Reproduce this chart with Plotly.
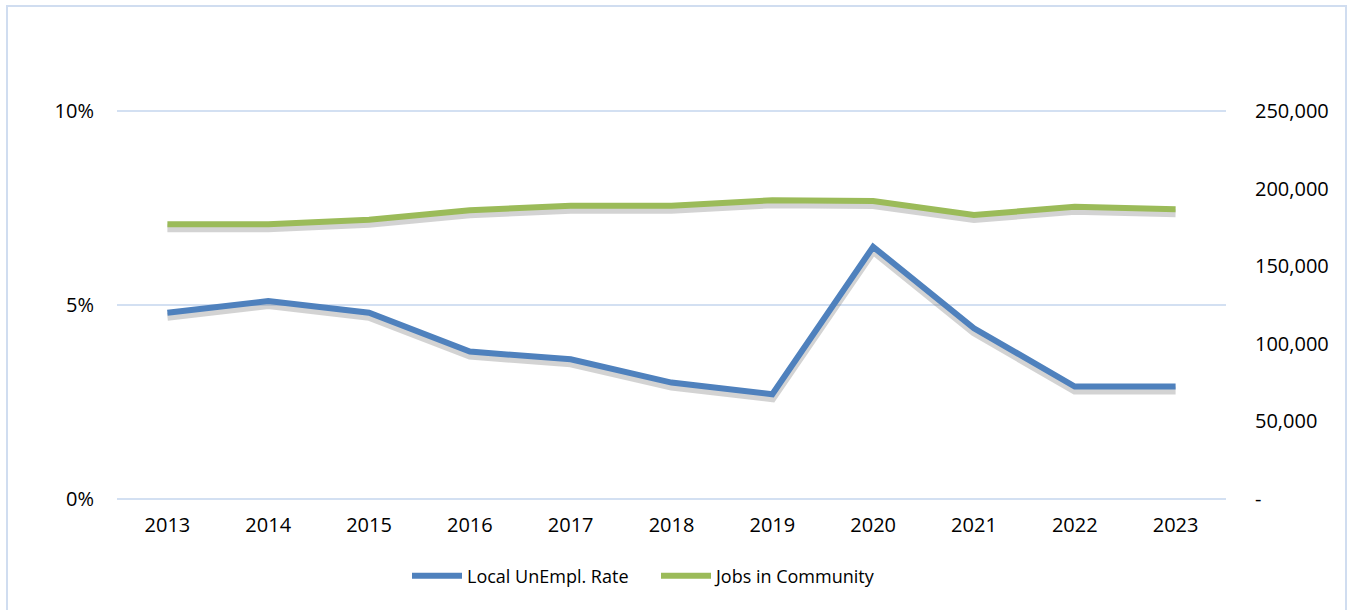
import plotly.graph_objects as go

# ---- data ----
years = ["2013", "2014", "2015", "2016", "2017", "2018", "2019", "2020", "2021", "2022", "2023"]
unemp_rate = [4.8, 5.1, 4.8, 3.8, 3.6, 3.0, 2.7, 6.5, 4.4, 2.9, 2.9]          # percent
jobs = [177000, 177000, 180000, 186000, 189000, 189000, 192500, 192000, 183000, 188300, 186700]
left_ticks = [0, 5, 10]
left_ticktext = ["0%", "5%", "10%"]
right_ticks = [0, 50000, 100000, 150000, 200000, 250000]
right_ticktext = ["-", "50,000", "100,000", "150,000", "200,000", "250,000"]

# ---- layout geometry ----
W, H = 1351, 610
EDGE = 2                      # px of padding so end gridlines are drawn
ML, MR = 117, 125
MT, MB = 111 - EDGE, 111 - EDGE
PW, PH = W - ML - MR, H - MT - MB
CORE = PH - 2 * EDGE          # px between 0% and 10%

def padded(lo, hi):
    d = EDGE / CORE * (hi - lo)
    return [lo - d, hi + d]

LEFT_RANGE = padded(0, 10)
RIGHT_RANGE = padded(0, 250000)
SHADOW_PX = 4

blue = "#4F81BD"
green = "#9BBB59"
grid = "#D3E0F2"
shadow = "rgba(120,120,120,0.33)"
font = "Open Sans"

def shifted(r, px):
    d = px / PH * (r[1] - r[0])
    return [r[0] + d, r[1] + d]

fig = go.Figure()
# keep base subplot present
fig.add_trace(go.Scatter(x=[], y=[], xaxis="x", yaxis="y", showlegend=False, hoverinfo="skip"))
# shadows
fig.add_trace(go.Scatter(x=years, y=unemp_rate, mode="lines", xaxis="x", yaxis="y2",
                         line=dict(color=shadow, width=8), showlegend=False, hoverinfo="skip"))
fig.add_trace(go.Scatter(x=years, y=jobs, mode="lines", xaxis="x", yaxis="y3",
                         line=dict(color=shadow, width=8), showlegend=False, hoverinfo="skip"))
# main lines
fig.add_trace(go.Scatter(x=years, y=unemp_rate, mode="lines", name="Local UnEmpl. Rate",
                         xaxis="x", yaxis="y4", line=dict(color=blue, width=6)))
fig.add_trace(go.Scatter(x=years, y=jobs, mode="lines", name="Jobs in Community",
                         xaxis="x", yaxis="y5", line=dict(color=green, width=6)))

hidden = dict(visible=False, overlaying="y", showgrid=False, zeroline=False)

fig.update_layout(
    width=W, height=H,
    margin=dict(l=ML, r=MR, t=MT, b=MB),
    paper_bgcolor="white", plot_bgcolor="white",
    font=dict(family=font, size=20, color="#000000"),
    xaxis=dict(type="category", range=[-0.5, len(years) - 0.5], showgrid=False,
               zeroline=False, showline=False, ticks="", ticklabelstandoff=10,
               tickfont=dict(size=20)),
    yaxis=dict(range=LEFT_RANGE, tickvals=left_ticks, ticktext=left_ticktext, showgrid=True,
               gridcolor=grid, gridwidth=1.5, zeroline=False, showline=False, ticks="",
               ticklabelstandoff=22, tickfont=dict(size=20)),
    yaxis2=dict(range=shifted(LEFT_RANGE, SHADOW_PX), **hidden),
    yaxis3=dict(range=shifted(RIGHT_RANGE, SHADOW_PX), **hidden),
    yaxis4=dict(range=LEFT_RANGE, **hidden),
    yaxis5=dict(range=RIGHT_RANGE, overlaying="y", side="right", tickvals=right_ticks,
                ticktext=right_ticktext, showgrid=False, zeroline=False, showline=False,
                ticks="", ticklabelstandoff=28, tickfont=dict(size=20)),
    legend=dict(orientation="h", x=(407 - ML) / PW, xanchor="left",
                y=-(576 - (MT + PH)) / PH, yanchor="middle",
                font=dict(size=18), itemwidth=50, entrywidth=184, entrywidthmode="pixels",
                bgcolor="rgba(0,0,0,0)"),
    showlegend=True,
)

# outer chart frame (bottom edge lies below the visible page)
fig.add_shape(type="rect", xref="paper", yref="paper",
              x0=(7 - ML) / PW, x1=(W - 5 - ML) / PW,
              y0=-(H + 10 - (MT + PH)) / PH, y1=(MT + PH - 6) / PH,
              line=dict(color="#D0DDF0", width=2), fillcolor="rgba(0,0,0,0)", layer="below")

fig.write_html("out.html")
